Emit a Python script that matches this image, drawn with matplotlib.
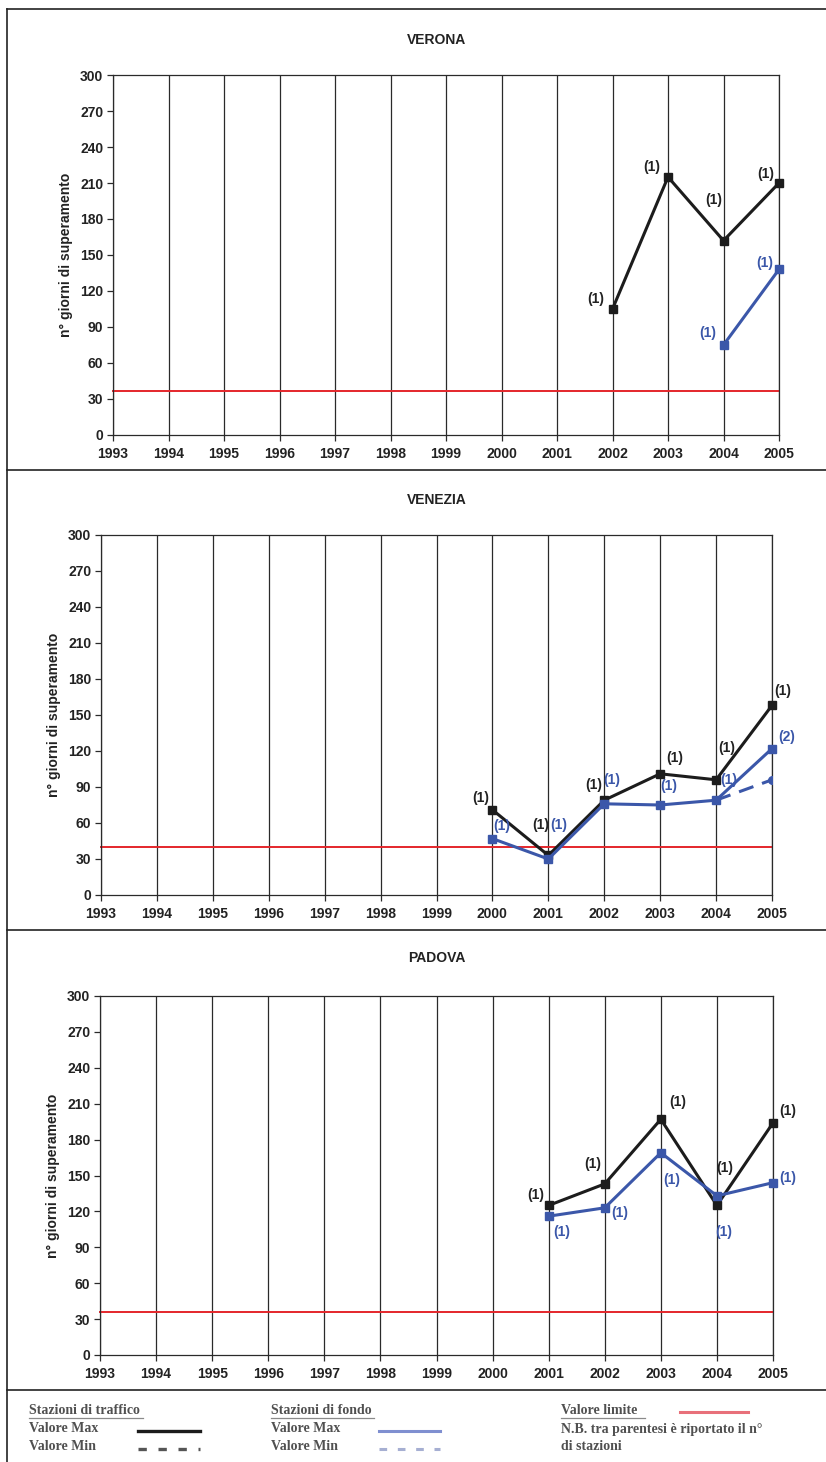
import numpy as np
import matplotlib
matplotlib.use('Agg')
import matplotlib.pyplot as plt
from matplotlib.lines import Line2D

plt.rcParams['font.family'] = ['Liberation Sans', 'DejaVu Sans']

# Data
years = list(range(1993, 2006))
nan = np.nan

verona_traffico_max = [nan]*9 + [105, 215, 162, 210]
verona_traffico_n = [None]*9 + [1, 1, 1, 1]
verona_fondo_max = [nan]*11 + [75, 138]
verona_fondo_n = [None]*11 + [1, 1]
verona_limite = 37

venezia_traffico_max = [nan]*7 + [71, 33, 79, 101, 96, 158]
venezia_traffico_n = [None]*7 + [1, 1, 1, 1, 1, 1]
venezia_fondo_max = [nan]*7 + [47, 30, 76, 75, 79, 122]
venezia_fondo_n = [None]*7 + [1, 1, 1, 1, 1, 2]
venezia_fondo_min = [nan]*11 + [79, 96]
venezia_limite = 40

padova_traffico_max = [nan]*8 + [125, 143, 197, 125, 194]
padova_traffico_n = [None]*8 + [1, 1, 1, 1, 1]
padova_fondo_max = [nan]*8 + [116, 123, 169, 133, 144]
padova_fondo_n = [None]*8 + [1, 1, 1, 1, 1]
padova_limite = 36

# label offsets in pixels (dx, dy), one per non-missing point
verona_off_t = [(-17, 10), (-16, 10), (-10, 41), (-13, 9)]
verona_off_f = [(-16, 12), (-14, 6)]
venezia_off_t = [(-12, 12), (-8, 30), (-10, 15), (15, 16), (11, 32), (11, 14)]
venezia_off_f = [(9, 13), (10, 34), (8, 24), (9, 19), (13, 20), (15, 12)]
padova_off_t = [(-13, 10), (-12, 20), (17, 17), (8, 37), (15, 12)]
padova_off_f = [(13, -16), (15, -5), (11, -27), (7, -36), (15, 5)]

BLACK = '#1c1c1c'
BLUE = '#3b57a9'
RED = '#e4262b'
W, H = 826, 1462
FS = 10

fig = plt.figure(figsize=(W/100, H/100), dpi=100)


def box(left, right, top, bottom):
    return [left/W, 1 - bottom/H, (right-left)/W, (bottom-top)/H]


def label_points(ax, vals, ns, offs, color):
    k = 0
    for x, v, n in zip(years, vals, ns):
        if n is None or np.isnan(v):
            continue
        dx, dy = offs[k]
        k += 1
        ax.annotate('(%d)' % n, (x, v), xytext=(dx, dy), textcoords='offset pixels',
                    ha='center', va='center', fontsize=FS, fontweight='bold', color=color)


def draw_panel(rect, title, tmax, tn, toff, fmax, fn, foff, limite, fmin=None, title_y=None):
    ax = fig.add_axes(box(*rect))
    ax.set_xlim(1993, 2005)
    ax.set_ylim(0, 300)
    ax.set_xticks(years)
    ax.set_xticklabels([str(y) for y in years])
    ax.set_yticks(range(0, 301, 30))
    for y in years:
        ax.axvline(y, color='#2a2a2a', lw=0.9, zorder=1)
    for s in ax.spines.values():
        s.set_color('#2a2a2a')
        s.set_linewidth(0.9)
    ax.tick_params(direction='out', length=4, width=0.9, color='#2a2a2a',
                   labelsize=FS, labelcolor='#222222')
    for lab in ax.get_xticklabels() + ax.get_yticklabels():
        lab.set_fontweight('bold')
    ax.tick_params(axis='x', pad=5)
    ax.tick_params(axis='y', pad=3)
    ax.plot([1993, 2005], [limite, limite], color=RED, lw=1.4, zorder=2, clip_on=False)
    if fmin is not None:
        ax.plot(years, fmin, color=BLUE, lw=2.2, ls=(0, (5, 3)), marker='o', ms=5.5, zorder=3)
    ax.plot(years, fmax, color=BLUE, lw=2.2, marker='s', ms=5.5, zorder=4, clip_on=False)
    ax.plot(years, tmax, color=BLACK, lw=2.2, marker='s', ms=5.5, zorder=3, clip_on=False)
    label_points(ax, tmax, tn, toff, '#222222')
    label_points(ax, fmax, fn, foff, BLUE)
    ax.set_ylabel('n° giorni di superamento', fontsize=FS, fontweight='bold', color='#222222',
                  labelpad=5)
    fig.text(437/W, 1 - title_y/H, title, ha='center', va='center',
             fontsize=FS, fontweight='bold', color='#222222')
    return ax


draw_panel((113, 779, 75, 435), 'VERONA', verona_traffico_max, verona_traffico_n, verona_off_t,
           verona_fondo_max, verona_fondo_n, verona_off_f, verona_limite, title_y=40)
draw_panel((101, 772, 535, 895), 'VENEZIA', venezia_traffico_max, venezia_traffico_n, venezia_off_t,
           venezia_fondo_max, venezia_fondo_n, venezia_off_f, venezia_limite,
           fmin=venezia_fondo_min, title_y=500)
draw_panel((100, 773, 996, 1355), 'PADOVA', padova_traffico_max, padova_traffico_n, padova_off_t,
           padova_fondo_max, padova_fondo_n, padova_off_f, padova_limite, title_y=958)


# frame lines
def fline(x0, y0, x1, y1, **kw):
    fig.lines.append(Line2D([x0/W, x1/W], [1 - y0/H, 1 - y1/H], transform=fig.transFigure, **kw))


fline(7, 9, W, 9, color='#222222', lw=1.2)
fline(7, 9, 7, H, color='#222222', lw=1.2)
for yy in (470, 930, 1390):
    fline(7, yy, W, yy, color='#222222', lw=1.2)

# legend (bottom), a scanned image in the original: serif, grey, bold
leg_kw = dict(fontsize=10, fontweight='bold', family=['Liberation Serif', 'DejaVu Serif'],
              color='#505050', va='center', ha='left')
fig.text(29/W, 1 - 1411/H, 'Stazioni di traffico', **leg_kw)
fline(29, 1418, 143, 1418, color='#8a8a8a', lw=0.9)
fig.text(29/W, 1 - 1429/H, 'Valore Max', **leg_kw)
fig.text(29/W, 1 - 1447/H, 'Valore Min', **leg_kw)
fline(138, 1431, 200, 1431, color=BLACK, lw=2.4)
fline(138, 1449, 200, 1449, color='#555555', lw=2.4, ls=(0, (2.5, 3.5)))

fig.text(271/W, 1 - 1411/H, 'Stazioni di fondo', **leg_kw)
fline(271, 1418, 374, 1418, color='#8a8a8a', lw=0.9)
fig.text(271/W, 1 - 1429/H, 'Valore Max', **leg_kw)
fig.text(271/W, 1 - 1447/H, 'Valore Min', **leg_kw)
fline(379, 1431, 440, 1431, color='#7f8fd0', lw=2.2)
fline(379, 1449, 440, 1449, color='#a6afd2', lw=2.2, ls=(0, (2.5, 3.5)))

fig.text(561/W, 1 - 1411/H, 'Valore limite', **leg_kw)
fline(561, 1418, 645, 1418, color='#8a8a8a', lw=0.9)
fline(680, 1412, 748, 1412, color='#e8707a', lw=2.2)
fig.text(561/W, 1 - 1429/H, 'N.B. tra parentesi è riportato il n°', **leg_kw)
fig.text(561/W, 1 - 1447/H, 'di stazioni', **leg_kw)

fig.savefig('out.png', dpi=100)
